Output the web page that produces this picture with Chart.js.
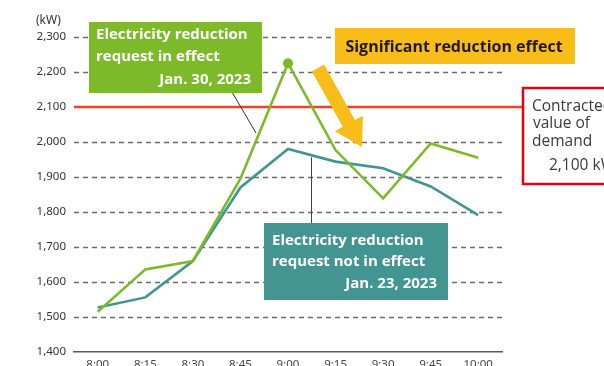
<!DOCTYPE html>
<html lang="en">
<head>
  <meta charset="UTF-8">
  <title>Electricity demand, reduction request</title>
  <style>
    html, body {
      margin: 0;
      padding: 0;
      background: #fff;
      overflow: hidden;
    }
    #wrap {
      position: relative;
      width: 604px;
      height: 380px;
    }
  </style>
</head>
<body>

<div id="wrap">
  <canvas id="demandChart"></canvas>
</div>

<script src="https://cdn.jsdelivr.net/npm/chart.js"></script>

<script>
  // time slots
  var times = ['8:00', '8:15', '8:30', '8:45', '9:00', '9:15', '9:30', '9:45', '10:00'];
  // Jan. 30, 2023 - reduction request in effect (kW)
  var inEffect = [1515, 1636, 1660, 1895, 2225, 1977, 1839, 1996, 1955];
  // Jan. 23, 2023 - reduction request not in effect (kW)
  var notInEffect = [1527, 1556, 1660, 1870, 1980, 1944, 1925, 1873, 1791];
  var contractValue = 2100;
  var yTicks = [1400, 1500, 1600, 1700, 1800, 1900, 2000, 2100, 2200, 2300];

  var GREEN = '#7dba2a';
  var TEAL = '#439591';
  var YELLOW = '#f8bd19';
  var RED_LINE = '#e8452c';
  var RED_BOX = '#e50013';
  var BOX_FONT = '"Open Sans", "Noto Sans", sans-serif';

  function fmt(v) {
    return v.toLocaleString('en-US');
  }

  // dashed grid + contract line, drawn under the data
  var backdrop = {
    id: 'backdrop',
    beforeDatasetsDraw: function(chart) {
      var c = chart.ctx;
      var y = chart.scales.y;
      var area = chart.chartArea;
      c.save();
      c.strokeStyle = '#6b6b6b';
      c.lineWidth = 1.3;
      c.setLineDash([5, 4]);
      yTicks.forEach(function(v) {
        if (v === 1400 || v === contractValue) return;
        var py = Math.round(y.getPixelForValue(v)) + 0.5;
        c.beginPath();
        c.moveTo(area.left, py);
        c.lineTo(area.right + 4, py);
        c.stroke();
      });
      c.setLineDash([]);
      // contract line
      var ry = y.getPixelForValue(contractValue);
      c.strokeStyle = RED_LINE;
      c.lineWidth = 2.5;
      c.beginPath();
      c.moveTo(area.left, ry);
      c.lineTo(524, ry);
      c.stroke();
      c.restore();
    }
  };

  function textLines(c, lines, color, size, weight) {
    c.fillStyle = color;
    c.font = weight + ' ' + size + 'px ' + BOX_FONT;
    c.textBaseline = 'middle';
    lines.forEach(function(l) {
      c.textAlign = l[3] || 'left';
      c.fillText(l[0], l[1], l[2]);
    });
  }

  // labels, connectors, arrow
  var notes = {
    id: 'notes',
    afterDraw: function(chart) {
      var c = chart.ctx;
      var x = chart.scales.x;
      var y = chart.scales.y;
      c.save();

      // connector for the green label
      c.strokeStyle = '#333';
      c.lineWidth = 1;
      c.beginPath();
      c.moveTo(232, 92);
      c.lineTo(256, 133);
      c.stroke();

      // connector for the teal label
      var cx = (x.getPixelForValue(4) + x.getPixelForValue(5)) / 2 - 1;
      var cy = (y.getPixelForValue(notInEffect[4]) + y.getPixelForValue(notInEffect[5])) / 2 + 2;
      c.strokeStyle = '#444';
      c.beginPath();
      c.moveTo(Math.round(cx) + 0.5, cy);
      c.lineTo(Math.round(cx) + 0.5, 224);
      c.stroke();

      // green box
      c.fillStyle = GREEN;
      c.fillRect(89, 22, 173, 71);
      textLines(c, [
        ['Electricity reduction', 96, 35],
        ['request in effect', 96, 57],
        ['Jan. 30, 2023', 251, 80, 'right']
      ], '#fff', 15, 'bold');

      // teal box
      c.fillStyle = TEAL;
      c.fillRect(264, 223, 184, 77);
      textLines(c, [
        ['Electricity reduction', 272, 241],
        ['request not in effect', 272, 262],
        ['Jan. 23, 2023', 437, 284, 'right']
      ], '#fff', 15, 'bold');

      // yellow label
      c.fillStyle = YELLOW;
      c.fillRect(335, 28, 240, 36);
      textLines(c, [
        ['Significant reduction effect', 454, 47, 'center']
      ], '#231815', 16, 'bold');

      // yellow arrow
      var x0 = 318, y0 = 68, x1 = 362, y1 = 147;
      var ang = Math.atan2(y1 - y0, x1 - x0);
      var len = Math.hypot(x1 - x0, y1 - y0);
      c.translate(x0, y0);
      c.rotate(ang);
      c.fillStyle = YELLOW;
      c.beginPath();
      c.moveTo(0, -7);
      c.lineTo(len - 27, -7);
      c.lineTo(len - 27, -16);
      c.lineTo(len, 0);
      c.lineTo(len - 27, 16);
      c.lineTo(len - 27, 7);
      c.lineTo(0, 7);
      c.closePath();
      c.fill();
      c.setTransform(1, 0, 0, 1, 0, 0);

      // contract value box
      c.fillStyle = '#fff';
      c.fillRect(523, 88, 90, 96);
      c.strokeStyle = RED_BOX;
      c.lineWidth = 2.5;
      c.strokeRect(523, 88, 90, 96);
      textLines(c, [
        ['Contracted', 532, 107],
        ['value of', 533, 124],
        ['demand', 532, 142],
        ['2,100 kW', 549, 166]
      ], '#3a3a3a', 15.5, 'normal');

      // unit label
      c.fillStyle = '#333';
      c.font = '12px "Noto Sans", sans-serif';
      c.textAlign = 'left';
      c.textBaseline = 'middle';
      c.fillText('(kW)', 36, 21);
      c.restore();
    }
  };

  var ctx = document.getElementById('demandChart').getContext('2d');
  var chart = new Chart(ctx, {
    type: 'line',
    data: {
      labels: times,
      datasets: [{
        label: 'Electricity reduction request in effect (Jan. 30, 2023)',
        data: inEffect,
        borderColor: GREEN,
        backgroundColor: GREEN,
        borderWidth: 2.6,
        tension: 0,
        pointRadius: function(c) { return c.dataIndex === 4 ? 5 : 0; },
        pointBorderWidth: 0
      }, {
        label: 'Electricity reduction request not in effect (Jan. 23, 2023)',
        data: notInEffect,
        borderColor: TEAL,
        backgroundColor: TEAL,
        borderWidth: 2.6,
        tension: 0,
        pointRadius: 0
      }]
    },
    options: {
      responsive: true,
      maintainAspectRatio: false,
      animation: false,
      layout: {
        padding: { top: 37, right: 102, left: 0, bottom: 0 }
      },
      plugins: {
        legend: { display: false },
        tooltip: { enabled: false }
      },
      scales: {
        x: {
          offset: true,
          grid: { display: false, drawTicks: false },
          border: { display: true, color: '#5a5a5a', width: 1.5 },
          ticks: {
            color: '#444',
            padding: 6,
            font: { family: '"Noto Sans", sans-serif', size: 11.5 },
            maxRotation: 0
          },
          afterFit: function(s) { s.height = 28; }
        },
        y: {
          min: 1400,
          max: 2300,
          grid: { display: false, drawTicks: false },
          border: { display: false },
          afterBuildTicks: function(s) {
            s.ticks = yTicks.map(function(v) { return { value: v }; });
          },
          ticks: {
            color: '#333',
            padding: 8,
            font: { family: '"Noto Sans", sans-serif', size: 11.5 },
            callback: function(v) { return fmt(v); }
          },
          afterFit: function(s) { s.width = 74; }
        }
      }
    },
    plugins: [backdrop, notes]
  });
</script>

</body>
</html>
